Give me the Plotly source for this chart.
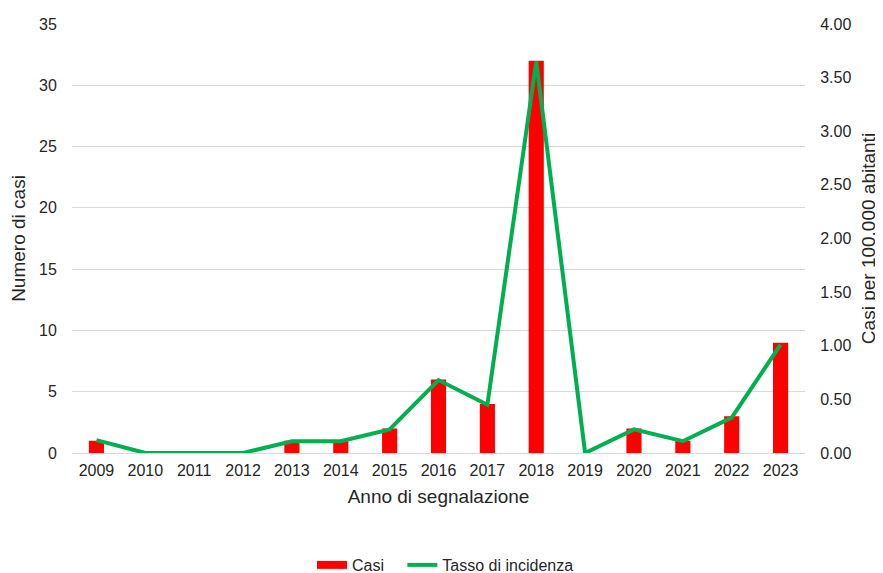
import plotly.graph_objects as go

anni = ["2009", "2010", "2011", "2012", "2013", "2014", "2015", "2016",
        "2017", "2018", "2019", "2020", "2021", "2022", "2023"]
casi = [1, 0, 0, 0, 1, 1, 2, 6, 4, 32, 0, 2, 1, 3, 9]
tasso = [0.12, 0.0, 0.0, 0.0, 0.11, 0.11, 0.22, 0.68, 0.45, 3.65, 0.0, 0.22, 0.11, 0.33, 1.01]

left_ticks = [0, 5, 10, 15, 20, 25, 30, 35]
right_ticks = [0, 0.5, 1.0, 1.5, 2.0, 2.5, 3.0, 3.5, 4.0]

font = "Liberation Sans, Arial, sans-serif"
RED = "#FF0000"
GREEN = "#00B050"

fig = go.Figure()
fig.add_trace(go.Bar(x=anni, y=casi, name="Casi", marker_color=RED,
                     marker_line_width=0, width=0.31, yaxis="y", showlegend=False))
# legend entry for bars (wide rectangle as in the original)
fig.add_trace(go.Scatter(x=[None], y=[None], name="Casi   ", mode="lines",
                         line=dict(color=RED, width=8), yaxis="y"))
fig.add_trace(go.Scatter(x=anni, y=tasso, name="Tasso di incidenza", mode="lines",
                         line=dict(color=GREEN, width=4), yaxis="y2"))

fig.update_layout(
    width=875, height=565,
    margin=dict(l=64, r=78, t=16, b=120),
    paper_bgcolor="white", plot_bgcolor="white",
    font=dict(family=font, size=16, color="#262626"),
    xaxis=dict(title=dict(text="Anno di segnalazione", standoff=11),
               showgrid=False, showline=False, automargin=False,
               ticks="outside", ticklen=3, tickcolor="rgba(0,0,0,0)"),
    yaxis=dict(title=dict(text="Numero di casi", standoff=8), range=[0, 35],
               tickvals=left_ticks, showgrid=True, gridcolor="#D9D9D9", gridwidth=1,
               zeroline=True, zerolinecolor="#D9D9D9", zerolinewidth=1,
               automargin=False, ticks="outside", ticklen=11,
               tickcolor="rgba(0,0,0,0)"),
    yaxis2=dict(title=dict(text="Casi per 100.000 abitanti", standoff=11),
                range=[0, 4], overlaying="y", side="right",
                tickvals=right_ticks, tickformat=".2f", showgrid=False,
                zeroline=False, automargin=False, ticks="outside", ticklen=11,
                tickcolor="rgba(0,0,0,0)"),
    legend=dict(orientation="h", x=0.5, xanchor="center", xref="container",
                y=0.0142, yanchor="middle", yref="container",
                font=dict(size=16)),
    bargap=0.5,
)

fig.write_html("out.html")
